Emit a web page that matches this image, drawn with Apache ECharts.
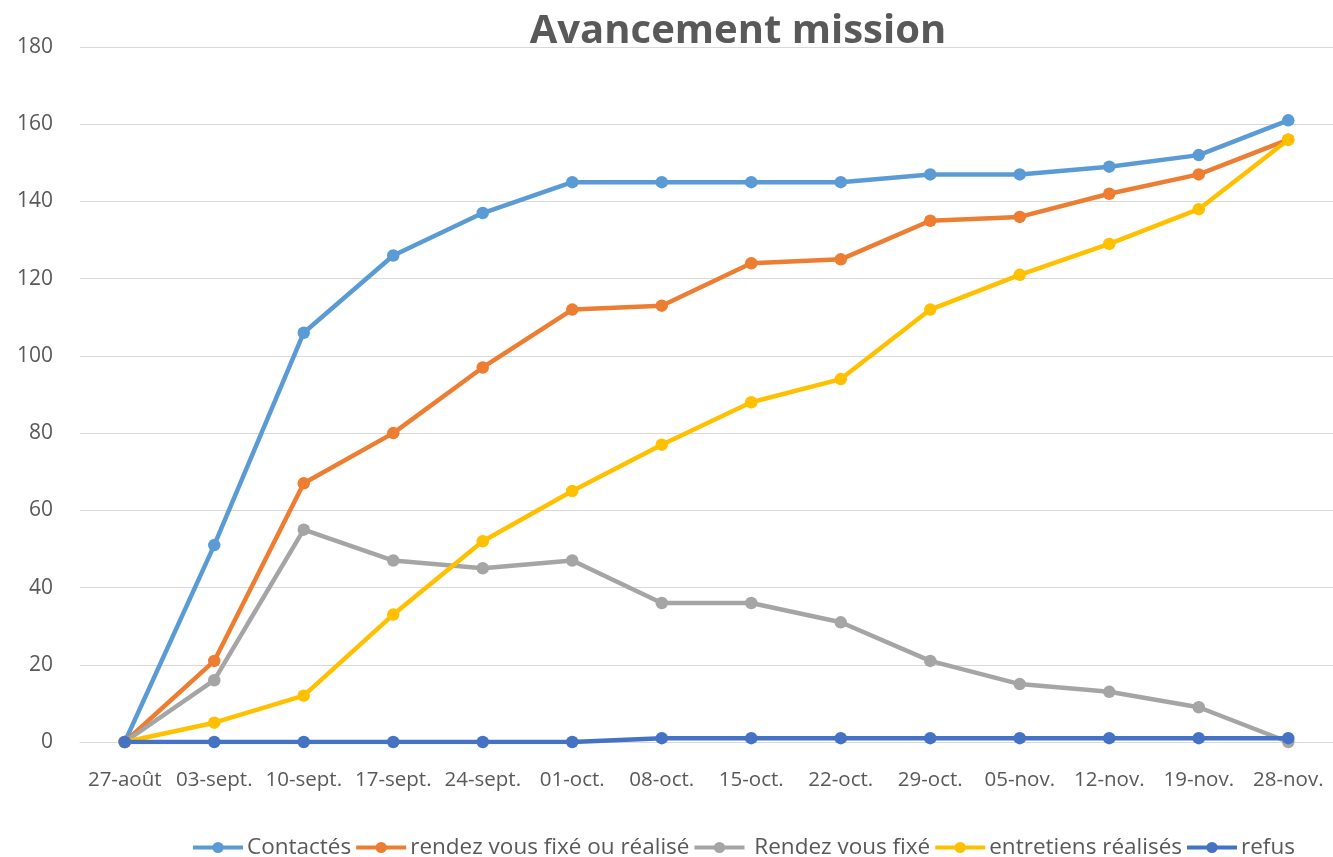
<!DOCTYPE html>
<html>
<head>
<meta charset="utf-8">
<script src="https://cdn.jsdelivr.net/npm/echarts@6/dist/echarts.min.js"></script>
<style>html,body{margin:0;padding:0;background:#fff;}#c{width:1333px;height:857px;}</style>
</head>
<body>
<div id="c"></div>
<script>
const categories = ['27-août','03-sept.','10-sept.','17-sept.','24-sept.','01-oct.','08-oct.','15-oct.','22-oct.','29-oct.','05-nov.','12-nov.','19-nov.','28-nov.'];
const contactes = [0,51,106,126,137,145,145,145,145,147,147,149,152,161];
const rdvFixeOuRealise = [0,21,67,80,97,112,113,124,125,135,136,142,147,156];
const rdvFixe = [0,16,55,47,45,47,36,36,31,21,15,13,9,0];
const entretiensRealises = [0,5,12,33,52,65,77,88,94,112,121,129,138,156];
const refus = [0,0,0,0,0,0,1,1,1,1,1,1,1,1];
const seriesNames = ['Contactés','rendez vous fixé ou réalisé',' Rendez vous fixé','entretiens réalisés','refus'];
const seriesColors = ['#5B9BD5','#ED7D31','#A5A5A5','#FFC000','#4472C4'];
const seriesData = [contactes, rdvFixeOuRealise, rdvFixe, entretiensRealises, refus];

const font = '"Open Sans", "Liberation Sans", sans-serif';
const chart = echarts.init(document.getElementById('c'), null, {renderer:'canvas'});
chart.setOption({
  animation: false,
  backgroundColor: '#fff',
  title: {
    text: 'Avancement mission',
    left: 733, top: 7, textAlign: 'center',
    textStyle: {fontFamily: font, fontWeight: 'bold', fontSize: 40, color: '#595959'}
  },
  legend: {
    top: 831, left: 186,
    itemWidth: 50, itemHeight: 14, itemGap: 3,
    lineStyle: {width: 4},
    textStyle: {fontFamily: font, fontSize: 22.5, color: '#595959', padding: [0,0,0,-1]},
    data: seriesNames
  },
  grid: {left: 80, top: 47, width: 1262, height: 695},
  xAxis: {
    type: 'category', data: categories, boundaryGap: true,
    axisLine: {show: true, lineStyle: {color: '#D9D9D9', width: 1}},
    axisTick: {show: false},
    axisLabel: {margin: 28, fontFamily: font, fontSize: 20.5, color: '#595959', interval: 0}
  },
  yAxis: {
    type: 'value', min: 0, max: 180, interval: 20,
    axisLine: {show: false}, axisTick: {show: false},
    axisLabel: {margin: 27, fontFamily: font, fontSize: 21, color: '#595959'},
    splitLine: {lineStyle: {color: '#D9D9D9', width: 1}}
  },
  series: seriesData.map((d, i) => ({
    name: seriesNames[i], type: 'line', data: d,
    symbol: 'circle', symbolSize: 12.5,
    lineStyle: {width: 4.5, color: seriesColors[i]},
    itemStyle: {color: seriesColors[i]}
  }))
});
</script>
</body>
</html>
